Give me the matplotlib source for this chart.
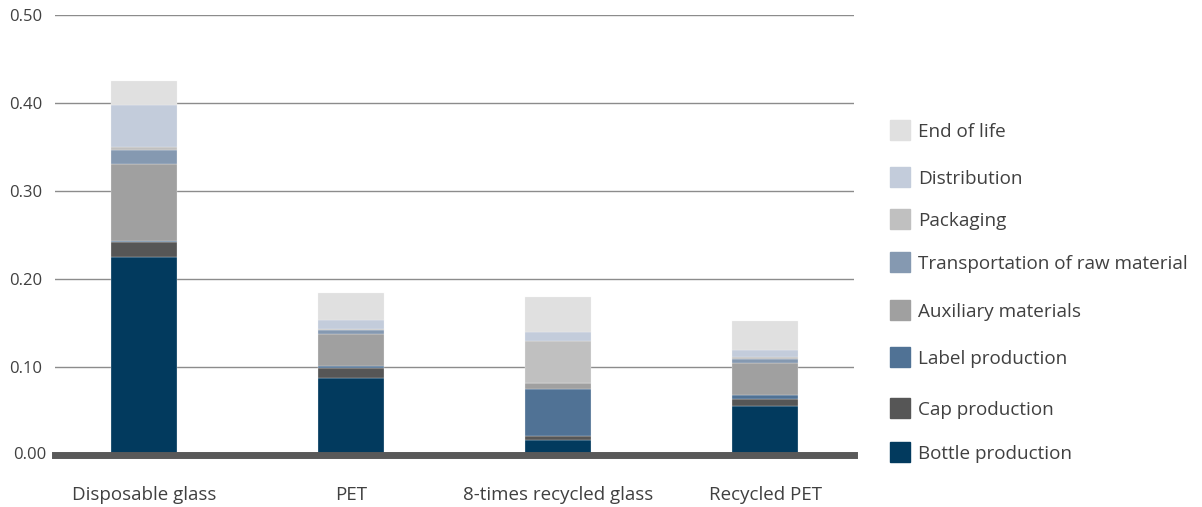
import matplotlib.pyplot as plt
from matplotlib.patches import Rectangle

plt.rcParams['font.family'] = ['Open Sans', 'DejaVu Sans']

containers = ['Disposable glass', 'PET', '8-times recycled glass', 'Recycled PET']

# kg CO2-eq per bottle (bottom to top)
bottle_production = [0.225, 0.088, 0.017, 0.056]
cap_production = [0.017, 0.011, 0.004, 0.008]
label_production = [0.001, 0.002, 0.054, 0.004]
auxiliary_materials = [0.088, 0.036, 0.007, 0.036]
transport_raw = [0.016, 0.005, 0.0, 0.005]
packaging = [0.003, 0.001, 0.047, 0.002]
distribution = [0.048, 0.010, 0.011, 0.008]
end_of_life = [0.027, 0.031, 0.040, 0.033]

stages = [
    ('Bottle production', bottle_production, '#023a5e'),
    ('Cap production', cap_production, '#565656'),
    ('Label production', label_production, '#507295'),
    ('Auxiliary materials', auxiliary_materials, '#a0a0a0'),
    ('Transportation of raw material', transport_raw, '#8599b1'),
    ('Packaging', packaging, '#c0c0c0'),
    ('Distribution', distribution, '#c3ccdb'),
    ('End of life', end_of_life, '#e0e0e0'),
]

fig = plt.figure(figsize=(12.02, 5.07), dpi=100)
ax = fig.add_axes([0.0458, 0.1026, 0.665, 0.868])

x = range(len(containers))
bottom = [0.0] * len(containers)
for name, vals, col in stages:
    ax.bar(x, vals, width=0.32, bottom=bottom, color=col, label=name,
           edgecolor='#f4f4f4', linewidth=0.2, zorder=3)
    bottom = [b + v for b, v in zip(bottom, vals)]

ax.set_xlim(-0.43, 3.43)
ax.set_ylim(0, 0.5)
ax.set_yticks([0.1, 0.2, 0.3, 0.4, 0.5])
ax.set_yticklabels(['0.10', '0.20', '0.30', '0.40', '0.50'])
ax.grid(axis='y', color='#8c8c8c', linewidth=1.0, zorder=0)
ax.set_xticks(list(x))
ax.set_xticklabels(containers)
ax.tick_params(axis='both', length=0, colors='#404040')
ax.tick_params(axis='x', pad=22, labelsize=13.5)
ax.tick_params(axis='y', pad=9, labelsize=12)
for s in ['top', 'right', 'left']:
    ax.spines[s].set_visible(False)
ax.spines['bottom'].set_color('#595959')
ax.spines['bottom'].set_linewidth(5)
ax.spines['bottom'].set_zorder(4)
fig.text(0.0458 - 9 / 1202, 1 - 455 / 507, '0.00', ha='right', va='center',
         fontsize=12, color='#404040')

# legend, placed by hand to match the uneven spacing
legend_y = [130, 177, 219, 262, 310, 357, 408, 452]
for (name, vals, col), py in zip(stages[::-1], legend_y):
    fig.patches.append(Rectangle((890 / 1202, 1 - (py + 10) / 507), 20 / 1202, 20 / 507,
                                 transform=fig.transFigure, color=col))
    fig.text(918 / 1202, 1 - (py + 2) / 507, name, va='center', ha='left',
             fontsize=13.6, color='#404040')

fig.savefig('out.png', dpi=100)
